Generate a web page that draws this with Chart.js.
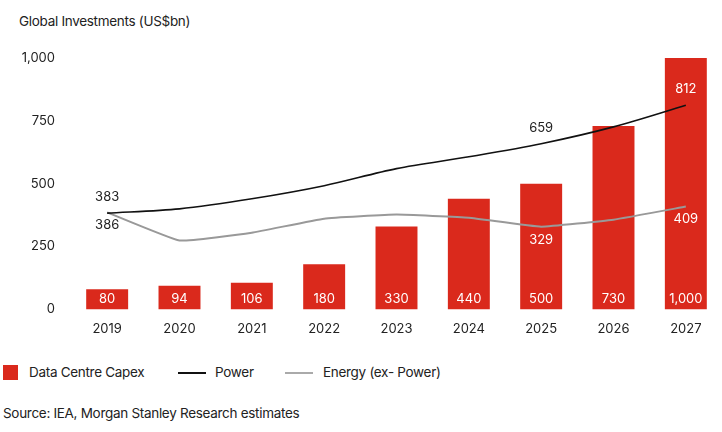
<!DOCTYPE html>
<html>
<head>
<meta charset="utf-8">
<script src="https://cdn.jsdelivr.net/npm/chart.js@4"></script>
<style>
    body { margin: 0; background: #fff; font-family: Inter, "Liberation Sans", sans-serif; color: #222; }
    #wrap { position: relative; width: 722px; height: 432px; }
    #chartBox { position: absolute; left: 0; top: 0; width: 722px; height: 341px; }
    .txt { position: absolute; font-size: 13.5px; letter-spacing: -0.3px; white-space: nowrap; }
    .sw { position: absolute; }
</style>
</head>
<body>
<div id="wrap">
    <div class="txt" style="left:19px; top:13px;">Global Investments (US$bn)</div>
    <div id="chartBox"><canvas id="capexChart"></canvas></div>
    <div class="sw" style="left:3px; top:365px; width:15px; height:15px; background:#da291c;"></div>
    <div class="txt" style="left:29px; top:364px;">Data Centre Capex</div>
    <div class="sw" style="left:178px; top:372px; width:28px; height:1.5px; background:#111;"></div>
    <div class="txt" style="left:215px; top:364px;">Power</div>
    <div class="sw" style="left:285px; top:372px; width:28px; height:1.5px; background:#aaa;"></div>
    <div class="txt" style="left:323px; top:364px;">Energy (ex- Power)</div>
    <div class="txt" style="left:3px; top:405px;">Source: IEA, Morgan Stanley Research estimates</div>
</div>
<script>
const years = ['2019', '2020', '2021', '2022', '2023', '2024', '2025', '2026', '2027'];
const capex = [80, 94, 106, 180, 330, 440, 500, 730, 1000];
const power = [383, 400, 440, 492, 560, 607, 659, 726, 812];
const energy = [386, 274, 305, 361, 377, 365, 329, 357, 409];
const yTicks = [0, 250, 500, 750, 1000];

// labels on the lines: [index, text colour, above?]
const powerLabels = [[0, '#222', true], [6, '#222', true], [8, '#fff', true]];
const energyLabels = [[0, '#222', false], [6, '#fff', false], [8, '#fff', false]];

const red = '#da291c';

const valueLabels = {
    id: 'valueLabels',
    afterDatasetsDraw(chart) {
        const ctx = chart.ctx;
        const x = chart.scales.x;
        const y = chart.scales.y;
        ctx.save();
        ctx.font = '13px Inter, "Liberation Sans", sans-serif';
        ctx.textAlign = 'center';
        ctx.textBaseline = 'middle';
        // bar values at the bottom of each bar
        ctx.fillStyle = '#fff';
        capex.forEach((v, i) => {
            ctx.fillText(v.toLocaleString('en-US'), x.getPixelForValue(i), y.getPixelForValue(0) - 10);
        });
        powerLabels.forEach(([i, col, above]) => {
            ctx.fillStyle = col;
            const py = y.getPixelForValue(power[i]);
            ctx.fillText(power[i], x.getPixelForValue(i), above ? py - 16 : py + 13);
        });
        energyLabels.forEach(([i, col, above]) => {
            ctx.fillStyle = col;
            const py = y.getPixelForValue(energy[i]);
            ctx.fillText(energy[i], x.getPixelForValue(i), above ? py - 16 : py + 13);
        });
        ctx.restore();
    }
};

new Chart(document.getElementById('capexChart'), {
    type: 'bar',
    data: {
        labels: years,
        datasets: [
            {
                type: 'line',
                label: 'Power',
                data: power,
                borderColor: '#111',
                borderWidth: 1.6,
                pointRadius: 0,
                tension: 0.3,
                order: 1
            },
            {
                type: 'line',
                label: 'Energy (ex- Power)',
                data: energy,
                borderColor: '#999',
                borderWidth: 2,
                pointRadius: 0,
                tension: 0.1,
                order: 1
            },
            {
                label: 'Data Centre Capex',
                data: capex,
                backgroundColor: red,
                barPercentage: 0.58,
                categoryPercentage: 1,
                order: 2
            }
        ]
    },
    options: {
        responsive: true,
        maintainAspectRatio: false,
        animation: false,
        layout: { padding: { top: 58, right: 0, left: 0, bottom: 0 } },
        plugins: { legend: { display: false }, tooltip: { enabled: false } },
        scales: {
            x: {
                grid: { display: false },
                border: { display: false },
                ticks: { color: '#222', font: { size: 13, family: 'Inter' }, padding: 4 }
            },
            y: {
                min: 0,
                max: 1000,
                afterFit(scale) { scale.width = 71; },
                afterBuildTicks(scale) { scale.ticks = yTicks.map(v => ({ value: v })); },
                grid: { display: false },
                border: { display: false },
                ticks: {
                    color: '#222',
                    font: { size: 13, family: 'Inter' },
                    padding: 8,
                    callback: v => v.toLocaleString('en-US')
                }
            }
        }
    },
    plugins: [valueLabels]
});
</script>
</body>
</html>
